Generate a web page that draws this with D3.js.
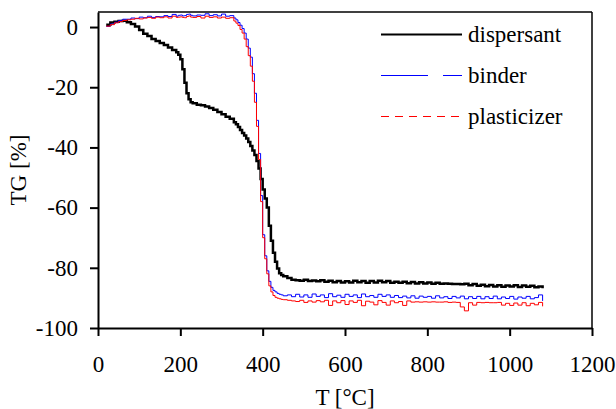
<!DOCTYPE html>
<meta charset="utf-8">
<style>
body{ margin:0; background:#fff; }
text{ font-family:"Liberation Serif","Times New Roman",serif; fill:#000; }
.axis text{ font-size:23px; }
.axis path, .axis line{ stroke:#000; stroke-width:2px; }
.label{ font-size:23px; text-anchor:middle; }
.legend text{ font-size:23px; }
</style>
<body>
<script src="https://d3js.org/d3.v7.min.js"></script>
<script>

// temperature grid [°C] (denser where the mass drops)
var temps = [20,30,40,50,60,70,80,90,100,110,120,130,140,150,160,170,180,190,
  195,200,205,210,215,220,225,
  230,240,250,260,270,280,290,300,310,320,330,
  335,340,345,350,355,360,365,370,375,380,385,390,395,400,405,410,415,420,425,430,435,440,445,
  450,460,470,480,490,500,510,520,530,540,550,560,570,580,590,600,610,
  620,630,640,650,660,670,680,690,700,710,720,730,740,750,760,770,780,790,800,810,
  820,830,840,850,860,870,880,890,900,910,920,930,940,950,960,970,980,990,1000,1010,
  1020,1030,1040,1050,1060,1070,1080];

// TG [%]
var dispersant = [0.8,1.5,1.8,2.0,2.1,1.6,1.0,0.2,-1.0,-2.2,-3.0,-4.0,-4.6,-5.3,-6.0,-6.8,-7.6,-8.4,
  -9.2,-10.7,-14,-18.5,-22,-24,-25,
  -25.3,-25.8,-26.0,-26.4,-26.9,-27.5,-28.2,-29.0,-29.8,-30.5,-31.6,
  -32.3,-33.2,-34.2,-35.2,-36.0,-37.0,-38.2,-39.5,-41,-42.5,-44.5,-47,-50.5,-54,-57,-60,-66,-71,-75,-78,-80.2,-81.8,-82.4,
  -82.8,-83.4,-84.0,-84.1,-84.3,-84.0,-84.4,-84.2,-84.5,-84.1,-84.6,-84.3,-84.8,-84.4,-84.9,-84.5,-84.9,
  -84.3,-84.8,-84.4,-85.0,-84.4,-84.9,-84.3,-84.8,-84.4,-85.0,-84.6,-85.0,-84.6,-85.1,-84.7,-85.2,-84.8,-85.2,-84.9,-85.3,
  -85.0,-85.3,-85.2,-85.3,-85.4,-85.4,-85.5,-85.3,-85.8,-85.4,-86.0,-85.6,-86.1,-85.7,-86.2,-85.8,-86.3,-85.9,-86.2,-85.8,
  -86.4,-85.9,-86.3,-86.0,-86.5,-86.2,-86.8];

var binder = [0.2,1.0,1.6,2.2,2.6,2.6,3.0,2.8,3.3,3.1,3.6,3.2,3.5,3.4,3.8,3.5,4.2,3.6,
  3.9,4.0,3.7,3.8,4.2,4.3,3.9,
  3.7,4.0,3.9,4.4,3.8,4.1,3.7,4.3,3.6,3.8,3.0,
  2.4,1.5,0.6,-0.5,-2.0,-4.0,-7,-10,-15.5,-22,-31,-42,-56,-69,-76,-81,-84.5,-86.5,-87.5,-88.0,-88.5,-88.8,-89.0,
  -89.3,-89.0,-89.6,-88.8,-89.7,-89.0,-89.8,-88.7,-89.5,-89.0,-89.9,-88.6,-89.6,-89.1,-89.8,-88.8,-89.5,
  -89.0,-89.9,-88.7,-89.6,-89.2,-89.8,-88.8,-89.5,-89.0,-89.8,-89.2,-89.9,-89.4,-90.0,-89.3,-90.1,-89.4,-89.8,-89.5,-90.1,
  -89.3,-90.0,-89.6,-90.2,-89.5,-90.0,-89.4,-90.3,-89.6,-90.2,-89.5,-90.3,-89.6,-90.2,-89.4,-90.3,-89.7,-90.2,-89.5,-90.4,
  -89.7,-90.1,-89.5,-90.3,-89.9,-89.0,-91.0];

var plasticizer = [0.3,0.8,1.4,1.8,2.2,2.4,2.6,2.9,2.7,3.0,3.2,2.9,3.3,3.1,3.4,3.0,3.6,3.2,
  3.3,3.4,3.2,3.1,3.5,3.7,3.3,
  3.2,3.5,3.0,3.6,3.2,3.4,3.0,3.3,2.9,3.1,2.0,
  1.3,0.5,-0.8,-2.0,-4.0,-6.5,-9.5,-13,-18,-25,-33,-44,-58,-70,-77,-82,-86,-88,-89.2,-89.8,-90.1,-90.3,-90.5,
  -90.6,-90.8,-91.0,-91.2,-90.8,-91.5,-91.0,-91.4,-90.9,-91.3,-90.8,-92.5,-91.0,-91.6,-90.9,-92.2,-91.0,
  -91.5,-90.8,-92.6,-91.1,-91.4,-92.3,-90.9,-91.5,-92.4,-91.0,-91.6,-91.2,-92.5,-91.0,-91.4,-91.3,-91.4,-91.3,-91.4,-91.3,
  -91.4,-91.4,-91.3,-91.5,-91.4,-91.5,-93.0,-94.3,-91.6,-92.4,-91.5,-91.6,-91.5,-91.6,-91.6,-91.5,-92.4,-91.8,-92.5,-91.7,
  -92.4,-91.6,-92.6,-91.8,-92.3,-91.5,-92.8];

var xTicks = [0,200,400,600,800,1000,1200];
var yTicks = [0,-20,-40,-60,-80,-100];
var names = ["dispersant","binder","plasticizer"];
var colors = ["#000000","#0000ff","#ff0000"];
var widths = [2.5,1,1];
var dashes = [null,"47,15","8,6"];

var series = [dispersant,binder,plasticizer];

var W = 616, H = 409;
var pL = 98, pR = 592, pT = 12, pB = 328;

var svg = d3.select("body").append("svg").attr("width",W).attr("height",H);

var x = d3.scaleLinear().domain([0,1200]).range([pL,pR]);
var y = d3.scaleLinear().domain([-100,5]).range([pB,pT]);

// frame top/right
svg.append("line").attr("x1",pL).attr("x2",pR).attr("y1",pT).attr("y2",pT)
  .attr("stroke","#000").attr("stroke-width",1.5);
svg.append("line").attr("x1",pR).attr("x2",pR).attr("y1",pT).attr("y2",pB)
  .attr("stroke","#000").attr("stroke-width",1.5);

var line = d3.line()
  .x((d,i)=>x(temps[i]))
  .y(d=>y(d))
  .curve(d3.curveStepAfter);

svg.selectAll(".curve").data(series).enter().append("path")
  .attr("class","curve")
  .attr("d",d=>line(d))
  .attr("fill","none")
  .attr("stroke",(d,i)=>colors[i])
  .attr("stroke-width",(d,i)=>widths[i]);

svg.append("g").attr("class","axis")
  .attr("transform","translate(0,"+pB+")")
  .call(d3.axisBottom(x).tickValues(xTicks).tickSize(8).tickPadding(20).tickSizeOuter(0).tickFormat(d=>String(d)));

svg.append("g").attr("class","axis")
  .attr("transform","translate("+pL+",0)")
  .call(d3.axisLeft(y).tickValues(yTicks).tickSize(8).tickPadding(12).tickSizeOuter(0).tickFormat(d=>String(d)));

svg.selectAll(".axis").attr("font-family",null).attr("font-size",null);

svg.append("text").attr("class","label")
  .attr("x",(pL+pR)/2).attr("y",405).text("T [°C]");
svg.append("text").attr("class","label")
  .attr("transform","translate(26,"+((pT+pB)/2)+") rotate(-90)")
  .text("TG [%]");

// legend
var lg = svg.append("g").attr("class","legend");
var rows = lg.selectAll("g").data(names).enter().append("g")
  .attr("transform",(d,i)=>"translate(381,"+(34.5+i*41)+")");
rows.append("line")
  .attr("x1",0).attr("x2",81)
  .attr("stroke",(d,i)=>colors[i])
  .attr("stroke-width",(d,i)=>i==0 ? 2 : 1)
  .attr("stroke-dasharray",(d,i)=>dashes[i]);
rows.append("text")
  .attr("x",87).attr("y",7.5)
  .text(d=>d);

</script>
</body>
